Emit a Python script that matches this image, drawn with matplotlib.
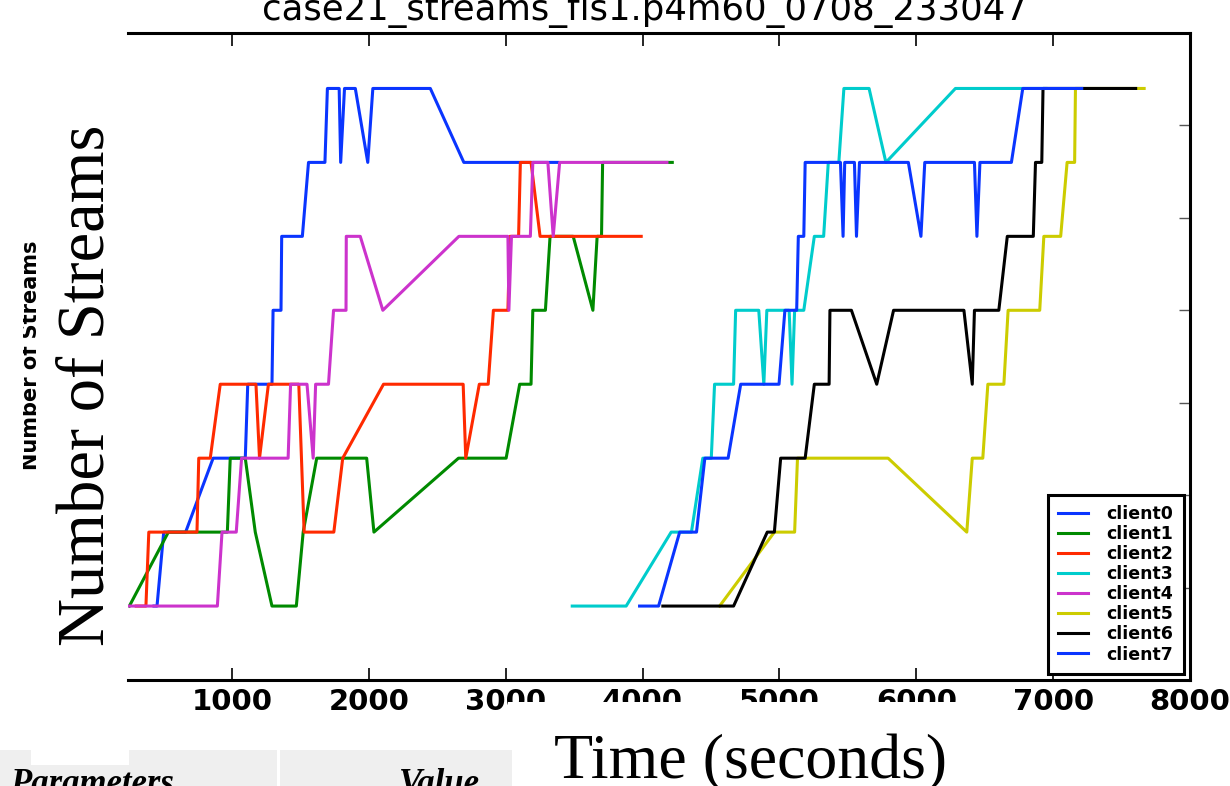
import matplotlib
matplotlib.use("Agg")
import matplotlib.pyplot as plt
from matplotlib.patches import Rectangle

W, H = 1230, 786

# time (seconds) and number of streams for each client
client0_t = [430, 452, 501, 661, 862, 1097, 1115, 1292, 1300, 1358, 1363, 1514, 1559, 1679, 1697,
             1783, 1794, 1822, 1901, 1992, 2029, 2449, 2694, 3381]
client0_n = [1, 1, 2, 2, 3, 3, 4, 4, 5, 5, 6, 6, 7, 7, 8, 8, 7, 8, 8, 7, 8, 8, 7, 7]

client1_t = [250, 535, 966, 987, 1097, 1170, 1292, 1470, 1520, 1619, 1984, 2037, 2655, 3003, 3102,
             3185, 3198, 3290, 3324, 3493, 3637, 3668, 3700, 3708, 4217]
client1_n = [1, 2, 2, 3, 3, 2, 1, 1, 2, 3, 3, 2, 3, 3, 4, 4, 5, 5, 6, 6, 5, 6, 6, 7, 7]

client2_t = [300, 371, 392, 744, 757, 841, 914, 1175, 1201, 1266, 1488, 1527, 1744, 1809, 2107,
             2689, 2708, 2807, 2872, 2910, 3016, 3030, 3094, 3107, 3185, 3251, 3990]
client2_n = [1, 1, 2, 2, 3, 3, 4, 4, 3, 4, 4, 2, 2, 3, 4, 4, 3, 4, 4, 5, 5, 6, 6, 7, 7, 6, 6]

client3_t = [3486, 3880, 4209, 4357, 4440, 4502, 4526, 4665, 4680, 4849, 4886, 4908, 5071, 5092,
             5111, 5178, 5255, 5323, 5357, 5434, 5471, 5655, 5778, 6286, 6948]
client3_n = [1, 1, 2, 2, 3, 3, 4, 4, 5, 5, 4, 5, 5, 4, 5, 5, 6, 6, 7, 7, 8, 8, 7, 8, 8]

client4_t = [250, 893, 927, 1031, 1070, 1410, 1428, 1548, 1593, 1611, 1705, 1742, 1833, 1835, 1937,
             2102, 2658, 3016, 3023, 3042, 3180, 3198, 3308, 3347, 3394, 4178]
client4_n = [1, 1, 2, 2, 3, 3, 4, 4, 3, 4, 4, 5, 5, 6, 6, 5, 6, 6, 5, 6, 6, 7, 7, 6, 7, 7]

client5_t = [4563, 4963, 5111, 5132, 5794, 6369, 6409, 6486, 6523, 6640, 6671, 6902, 6932, 7055,
             7102, 7157, 7163, 7665]
client5_n = [1, 2, 2, 3, 3, 2, 3, 3, 4, 4, 5, 5, 6, 6, 7, 7, 8, 8]

client6_t = [4148, 4665, 4911, 4963, 5009, 5188, 5255, 5363, 5369, 5526, 5711, 5834, 6348, 6409,
             6425, 6603, 6665, 6855, 6871, 6917, 6926, 7603]
client6_n = [1, 1, 2, 2, 3, 3, 4, 4, 5, 5, 4, 5, 5, 4, 5, 5, 6, 6, 7, 7, 8, 8]

client7_t = [3978, 4117, 4271, 4394, 4455, 4625, 4717, 4997, 5040, 5126, 5138, 5178, 5188, 5446,
             5465, 5477, 5548, 5563, 5585, 5942, 6034, 6062, 6425, 6443, 6465, 6695, 6778, 7209]
client7_n = [1, 1, 2, 2, 3, 3, 4, 4, 5, 5, 6, 6, 7, 7, 6, 7, 7, 6, 7, 7, 6, 7, 7, 6, 7, 7, 8, 8]

names = ["client0", "client1", "client2", "client3", "client4", "client5", "client6", "client7"]
times = [client0_t, client1_t, client2_t, client3_t, client4_t, client5_t, client6_t, client7_t]
streams = [client0_n, client1_n, client2_n, client3_n, client4_n, client5_n, client6_n, client7_n]
colors = ["#0a35ff", "#008a00", "#ff2a00", "#00cccc", "#cc33cc", "#cccc00", "#000000", "#0a35ff"]

xticks = [1000, 2000, 3000, 4000, 5000, 6000, 7000, 8000]
yticks = [0, 1.25, 2.5, 3.75, 5.0, 6.25, 7.5, 8.75]

title = "case21_streams_fis1.p4m60_0708_233047"


def fx(px):
    return px / W


def fy(py):
    return 1 - py / H


fig = plt.figure(figsize=(W / 100, H / 100), dpi=100)
ax = fig.add_axes([fx(128), fy(680), (1190 - 128) / W, (680 - 33) / H])

for t, n, c, name in zip(times, streams, colors, names):
    ax.plot(t, n, color=c, lw=2.2, label=name)

ax.set_xlim(240, 8000)
ax.set_ylim(0, 8.75)
ax.set_xticks(xticks)
ax.set_yticks(yticks)
ax.set_xticklabels([str(v) for v in xticks], fontsize=21, fontweight="bold")
ax.tick_params(axis="x", direction="in", top=True, length=9, width=1.2, pad=6)
ax.tick_params(axis="y", direction="in", left=False, right=True, labelleft=False,
               length=8, width=1, color="#555555")
ax.spines["left"].set_visible(False)
for s in ["top", "right", "bottom"]:
    ax.spines[s].set_linewidth(2.2)

leg = ax.legend(loc="lower right", prop={"size": 12.5, "weight": "bold"}, handlelength=1.7,
                handletextpad=1.1, labelspacing=0.12, borderpad=0.6, borderaxespad=0.35,
                fancybox=False, framealpha=1)
leg.get_frame().set_edgecolor("black")
leg.get_frame().set_linewidth(2.2)

# title sits partly above the top edge, as in the source image
fig.text(fx(645), fy(20), title, ha="center", va="baseline", fontsize=25.6)

# white boxes and table cells overlapping the figure
def box(x0, y0, x1, y1, color):
    fig.add_artist(Rectangle((fx(x0), fy(y1)), (x1 - x0) / W, (y1 - y0) / H,
                             transform=fig.transFigure, facecolor=color, edgecolor="none",
                             zorder=5))

box(508, 702, 1005, 790, "white")
box(0, 750, 277, 790, "#efefef")
box(280, 750, 512, 790, "#efefef")
box(31, 750, 129, 765, "white")

fig.text(fx(37), fy(355), "Number of Streams", rotation=90, rotation_mode="anchor",
         ha="center", va="baseline", fontsize=15, fontweight="bold", zorder=4)
box(0, 230, 23, 480, "white")

fig.text(fx(104), fy(385), "Number of Streams", rotation=90, rotation_mode="anchor",
         ha="center", va="baseline", fontsize=48, family="Liberation Serif", zorder=6)
fig.text(fx(750), fy(778), "Time (seconds)", ha="center", va="baseline",
         fontsize=46, family="Liberation Serif", zorder=6)
fig.text(fx(10), fy(793), "Parameters", ha="left", va="baseline", fontsize=25,
         family="Liberation Serif", fontweight="bold", style="italic", zorder=6)
fig.text(fx(480), fy(793), "Value", ha="right", va="baseline", fontsize=25,
         family="Liberation Serif", fontweight="bold", style="italic", zorder=6)

fig.savefig("out.png", dpi=100)
